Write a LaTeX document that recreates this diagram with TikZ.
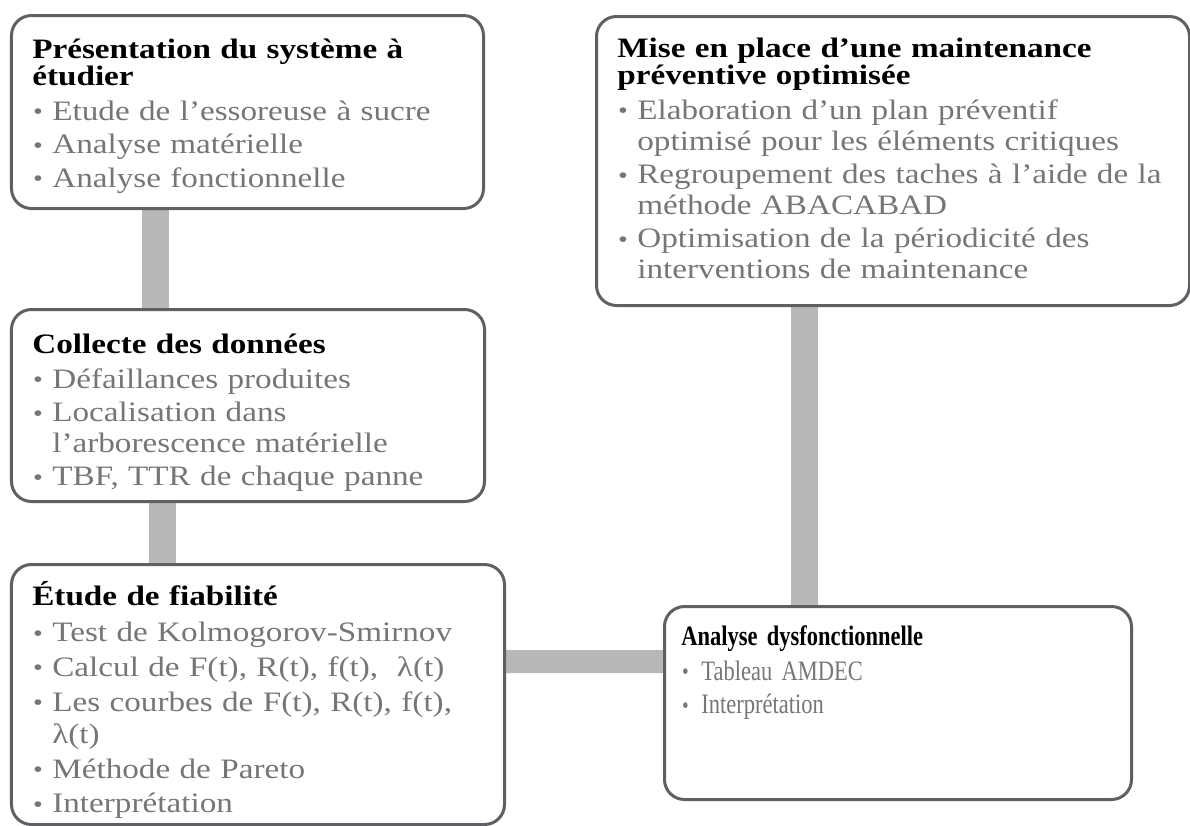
\documentclass[tikz,border=0pt]{standalone}
\usepackage{fontspec}
\setmainfont{Liberation Serif}
\newfontfamily\widefont[FakeStretch=1.18]{Liberation Serif}
\newfontfamily\narrowfont[FakeStretch=0.8]{Liberation Serif}
\usetikzlibrary{positioning, backgrounds}

\definecolor{framegray}{RGB}{95,95,100}
\definecolor{bargray}{RGB}{184,184,184}
\definecolor{itemgray}{RGB}{118,118,118}

\newcommand{\titre}[1]{{\leavevmode\bfseries\color{black}\fontsize{16pt}{14.5pt}\selectfont #1\par}\vspace{1pt}}
\newcommand{\puce}{\par\vspace{1.5pt}\hangindent=0.4cm\hangafter=1%
    \makebox[0.4cm][l]{\hspace{0.5pt}\raisebox{0.3pt}{\fontsize{13.5pt}{13.5pt}\selectfont\textbullet}}}

\begin{document}
\begin{tikzpicture}[
    box/.style={draw=framegray, line width=0.06cm, rounded corners=0.4cm, fill=white,
        anchor=north west, inner sep=0pt},
    boxtext/.style={anchor=base west, inner sep=0pt, text width=#1, align=left,
        text=itemgray, font=\widefont\fontsize{16pt}{17.5pt}\selectfont},
    bar/.style={draw=bargray, line width=0.54cm}
]

    \useasboundingbox (0,0) rectangle (23.8,-16.5);

    %% Boxes

    % Left column
    \node[box, minimum width=9.44cm, minimum height=3.86cm] (pres) at (0.2,-0.28) {};
    \node[box, minimum width=9.46cm, minimum height=3.84cm] (coll) at (0.2,-6.16) {};
    \node[box, minimum width=9.86cm, minimum height=5.2cm] (fiab) at (0.2,-11.26) {};

    % Right column
    \node[box, minimum width=11.86cm, minimum height=5.78cm] (prev) at (11.9,-0.3) {};
    \node[box, minimum width=9.34cm, minimum height=3.86cm] (dysf) at (13.26,-12.1) {};

    %% Texts

    \node[boxtext=9.2cm] (pres text) at ([shift={(0.44,-0.88)}]pres.north west) {%
        \titre{Présentation du système à\newline étudier}
        \puce Etude de l’essoreuse à sucre
        \puce Analyse matérielle
        \puce Analyse fonctionnelle\par};

    \node[boxtext=9.2cm] (coll text) at ([shift={(0.44,-0.9)}]coll.north west) {%
        \titre{Collecte des données}
        \puce Défaillances produites
        \puce Localisation dans\newline l’arborescence matérielle
        \puce TBF, TTR de chaque panne\par};

    \node[boxtext=9.6cm, font=\widefont\fontsize{16pt}{18.3pt}\selectfont] (fiab text)
        at ([shift={(0.44,-0.84)}]fiab.north west) {%
        \titre{Étude de fiabilité}
        \puce Test de Kolmogorov-Smirnov
        \puce Calcul de F(t), R(t), f(t),~ λ(t)
        \puce Les courbes de F(t), R(t), f(t),\newline λ(t)
        \puce Méthode de Pareto
        \puce Interprétation\par};

    \node[boxtext=11.5cm] (prev text) at ([shift={(0.44,-0.84)}]prev.north west) {%
        \titre{Mise en place d’une maintenance\newline préventive optimisée}
        \puce Elaboration d’un plan préventif\newline optimisé pour les éléments critiques
        \puce Regroupement des taches à l’aide de la\newline méthode ABACABAD
        \puce Optimisation de la périodicité des\newline interventions de maintenance\par};

    \node[boxtext=9cm, font=\narrowfont\fontsize{16pt}{17.5pt}\selectfont] (dysf text)
        at ([shift={(0.36,-0.8)}]dysf.north west) {%
        \titre{Analyse dysfonctionnelle}
        \puce Tableau AMDEC
        \puce Interprétation\par};

    %% Connectors
    \begin{scope}[on background layer]
        \fill[white] (0,0) rectangle (23.8,-16.5);
        \draw[bar] ([xshift=2.9cm]pres.south west) -- ([xshift=2.9cm]coll.north west);
        \draw[bar] ([xshift=3.04cm]coll.south west) -- ([xshift=3.04cm]fiab.north west);
        \draw[bar] ([xshift=4.19cm]prev.south west) -- ([xshift=2.83cm]dysf.north west);
        \draw[bar, line width=0.46cm] ([yshift=-1.97cm]fiab.north east) -- ([yshift=-1.13cm]dysf.north west);
    \end{scope}

\end{tikzpicture}
\end{document}
